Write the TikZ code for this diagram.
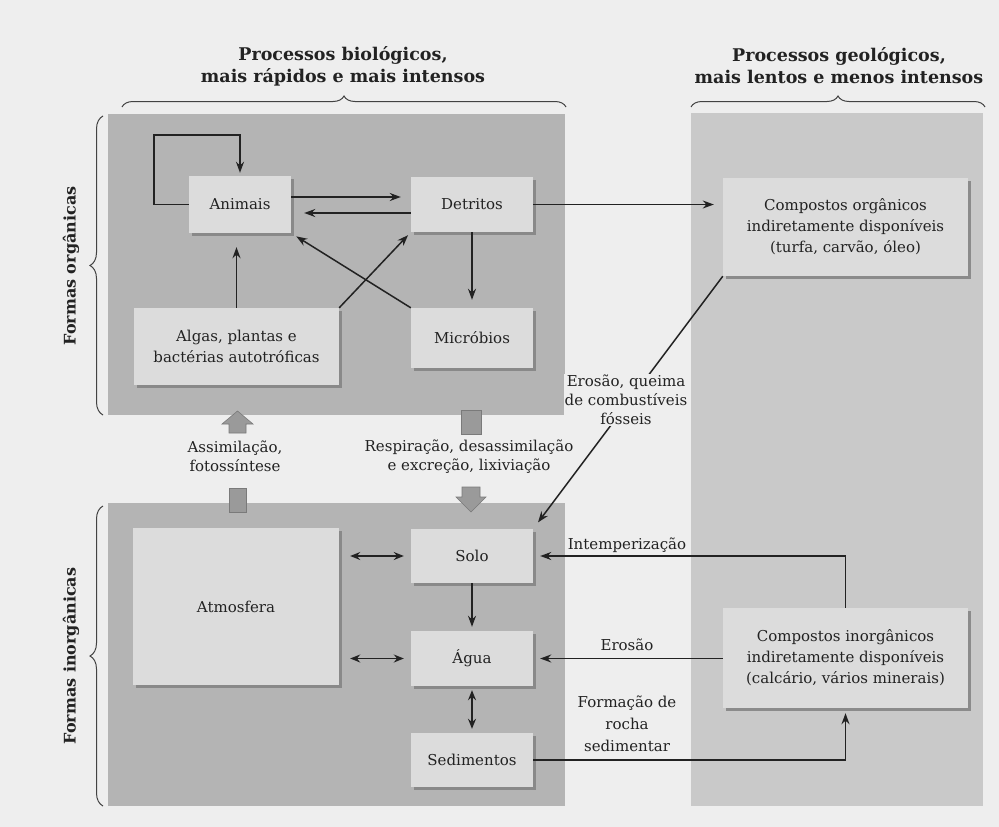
\documentclass[tikz,border=0pt]{standalone}
\usepackage{fontspec}
\setmainfont{DejaVu Serif}
\usetikzlibrary{arrows.meta,shadows,decorations.pathreplacing,calc}
\definecolor{bg}{HTML}{EEEEEE}
\definecolor{panelA}{HTML}{B4B4B4}
\definecolor{panelB}{HTML}{C9C9C9}
\definecolor{boxfill}{HTML}{DCDCDC}
\definecolor{shadowc}{HTML}{858585}
\definecolor{ink}{HTML}{222222}
\definecolor{blockc}{HTML}{9A9A9A}
\begin{document}
\begin{tikzpicture}[x=1pt,y=-1pt,
  box/.style={draw=none, fill=boxfill, drop shadow={shadow xshift=3pt,shadow yshift=-3pt,fill=shadowc,opacity=0.9}, text=ink, align=center, font=\fontsize{15}{21}\selectfont, inner sep=2pt},
  lbl/.style={text=ink, align=center, font=\fontsize{15}{19}\selectfont, inner sep=1pt},
  hdr/.style={text=ink, align=center, font=\bfseries\fontsize{17.5}{22}\selectfont},
  side/.style={text=ink, font=\bfseries\fontsize{16}{20}\selectfont, rotate=90},
  arr/.style={draw=ink, line width=1.5pt, -{Stealth[length=11pt,width=8pt]}},
  darr/.style={draw=ink, line width=1.5pt, {Stealth[length=10pt,width=8pt]}-{Stealth[length=10pt,width=8pt]}},
  brc/.style={draw=ink!85, line width=1pt, decorate},
  blk/.style={fill=blockc, draw=ink!60, line width=0.6pt}
]
% background and panels
\fill[bg] (0,0) rectangle (999,827);
\useasboundingbox (0,0) rectangle (999,827);
\fill[panelA] (108,114) rectangle (565,415);
\fill[panelA] (108,503) rectangle (565,806);
\fill[panelB] (691,113) rectangle (983,806);

% headers and braces
\node[hdr] (h1) at (343,66) {Processos biológicos,\\mais rápidos e mais intensos};
\node[hdr] (h2) at (839,66) {Processos geológicos,\\mais lentos e menos intensos};
\draw[brc, decoration={brace, amplitude=11pt}] (122,107) -- (566,107);
\draw[brc, decoration={brace, amplitude=11pt}] (691,107) -- (985,107);
\draw[brc, decoration={brace, amplitude=13pt}] (103,415) -- (103,116);
\draw[brc, decoration={brace, amplitude=13pt}] (103,806) -- (103,506);
\node[side] (fo) at (71,266) {Formas orgânicas};
\node[side] (fi) at (71,656) {Formas inorgânicas};

% boxes
\node[box, minimum width=102pt, minimum height=57pt] (anim) at (240,204.5) {Animais};
\node[box, minimum width=122pt, minimum height=55pt] (detr) at (472,204.5) {Detritos};
\node[box, minimum width=205pt, minimum height=77pt] (algas) at (236.5,346.5) {Algas, plantas e\\bactérias autotróficas};
\node[box, minimum width=122pt, minimum height=60pt] (micr) at (472,338) {Micróbios};
\node[box, minimum width=245pt, minimum height=98pt] (corg) at (845.5,227) {Compostos orgânicos\\indiretamente disponíveis\\(turfa, carvão, óleo)};
\node[box, minimum width=206pt, minimum height=157pt] (atm) at (236,606.5) {Atmosfera};
\node[box, minimum width=122pt, minimum height=54pt] (solo) at (472,556) {Solo};
\node[box, minimum width=122pt, minimum height=55pt] (agua) at (472,658.5) {Água};
\node[box, minimum width=122pt, minimum height=54pt] (sedi) at (472,760) {Sedimentos};
\node[box, minimum width=245pt, minimum height=100pt] (cinorg) at (845.5,658) {Compostos inorgânicos\\indiretamente disponíveis\\(calcário, vários minerais)};

% organic connectors
\draw[arr, shorten >=3pt] (anim.west) -- ++(-35,0) |- (240,135) -- (anim.north);
\draw[arr, shorten >=10pt] ([yshift=7.5pt]anim.east) -- ([yshift=7.5pt]detr.west);
\draw[arr, shorten >=13pt] ([yshift=-8.5pt]detr.west) -- ([yshift=-8.5pt]anim.east);
\draw[arr, shorten >=14pt] (algas.north) -- (algas.north |- anim.south);
\draw[arr, shorten >=4pt] (algas.north east) -- (detr.south west);
\draw[arr, shorten >=6pt] (micr.north west) -- (anim.south east);
\draw[arr, shorten >=8pt] (detr.south) -- (micr.north);
\draw[arr, line width=1.3pt, shorten >=9pt] (detr.east) -- (detr.east -| corg.west);

% erosion / burning
\draw[arr, shorten >=8pt] (corg.south west) -- (solo.north east);
\node[lbl, fill=bg] (lq) at (626,400) {Erosão, queima\\de combustíveis\\fósseis};

% block arrows
\filldraw[blk] (222,424) -- (237.5,411) -- (253,424) -- (246,424) -- (246,433) -- (229,433) -- (229,424) -- cycle;
\filldraw[blk] (229,488) rectangle (246,512);
\filldraw[blk] (461,410) rectangle (481,434);
\filldraw[blk] (462,487) -- (480,487) -- (480,497) -- (486,497) -- (471,512) -- (456,497) -- (462,497) -- cycle;
\node[lbl] (lass) at (235,456) {Assimilação,\\fotossíntese};
\node[lbl] (lresp) at (469,457) {Respiração, desassimilação\\e excreção, lixiviação};

% inorganic connectors
\draw[darr, shorten <=11pt, shorten >=7pt] (atm.east |- solo.west) -- (solo.west);
\draw[darr, shorten <=11pt, shorten >=7pt] (atm.east |- agua.west) -- (agua.west);
\draw[arr, shorten >=4pt] (solo.south) -- (agua.north);
\draw[darr, shorten <=4pt, shorten >=4pt] (agua.south) -- (sedi.north);

% geological connectors
\draw[arr, shorten >=7pt] (cinorg.north) -- (cinorg.north |- solo.east) -- (solo.east);
\node[lbl] (lint) at (627,545) {Intemperização};
\draw[arr, shorten >=7pt] (cinorg.west |- agua.east) -- (agua.east);
\node[lbl] (lero) at (627,645) {Erosão};
\draw[arr, line width=1.8pt, shorten >=5pt] (sedi.east) -- (sedi.east -| cinorg.south) -- (cinorg.south);
\node[lbl, font=\fontsize{15}{22}\selectfont] (lform) at (627,724) {Formação de\\rocha\\sedimentar};
\end{tikzpicture}
\end{document}
